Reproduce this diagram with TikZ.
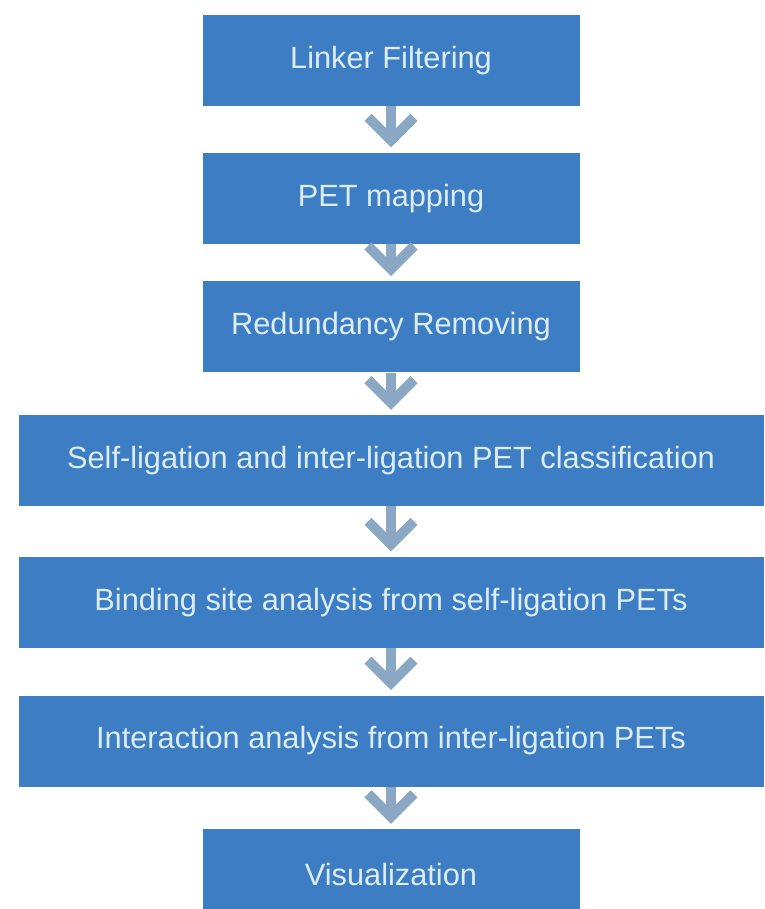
\documentclass[tikz,border=0pt]{standalone}
\usepackage{fontspec}
\setmainfont{Liberation Sans}
\usepackage{tikz}
\usetikzlibrary{arrows.meta, positioning}
\definecolor{stepblue}{HTML}{3D7DC3}
\definecolor{steptext}{HTML}{DDEDF8}
\definecolor{arrowgrey}{HTML}{8AA8C4}

\begin{document}
\begin{tikzpicture}[node distance=0.88cm,
  stepbox/.style={fill=stepblue, text=steptext, minimum width=7.54cm, minimum height=1.82cm, inner sep=0pt, font=\fontsize{17.5}{21}\selectfont},
  widebox/.style={stepbox, minimum width=14.9cm},
  flow/.style={arrowgrey, line width=0.2cm, -{Straight Barb[length=0.46cm, width=0.92cm]}, shorten >=0.1cm}]
  \clip (0,0) rectangle (15.3,-18.18);
  \node[stepbox] (filter) at (7.82,-1.21) {Linker Filtering};
  \node[stepbox, below=0.92cm of filter] (mapping) {PET mapping};
  \node[stepbox, below=0.74cm of mapping] (redund) {Redundancy Removing};
  \node[widebox, below=0.84cm of redund] (classify) {Self-ligation and inter-ligation PET classification};
  \node[widebox, below=1.0cm of classify] (binding) {Binding site analysis from self-ligation PETs};
  \node[widebox, below=0.94cm of binding] (interact) {Interaction analysis from inter-ligation PETs};
  \node[stepbox, below=0.84cm of interact] (visual) {Visualization};

  \draw[flow] (filter) -- (mapping);
  \draw[flow] (mapping) -- (redund);
  \draw[flow] (redund) -- (classify);
  \draw[flow] (classify) -- (binding);
  \draw[flow] (binding) -- (interact);
  \draw[flow] (interact) -- (visual);
\end{tikzpicture}
\end{document}
